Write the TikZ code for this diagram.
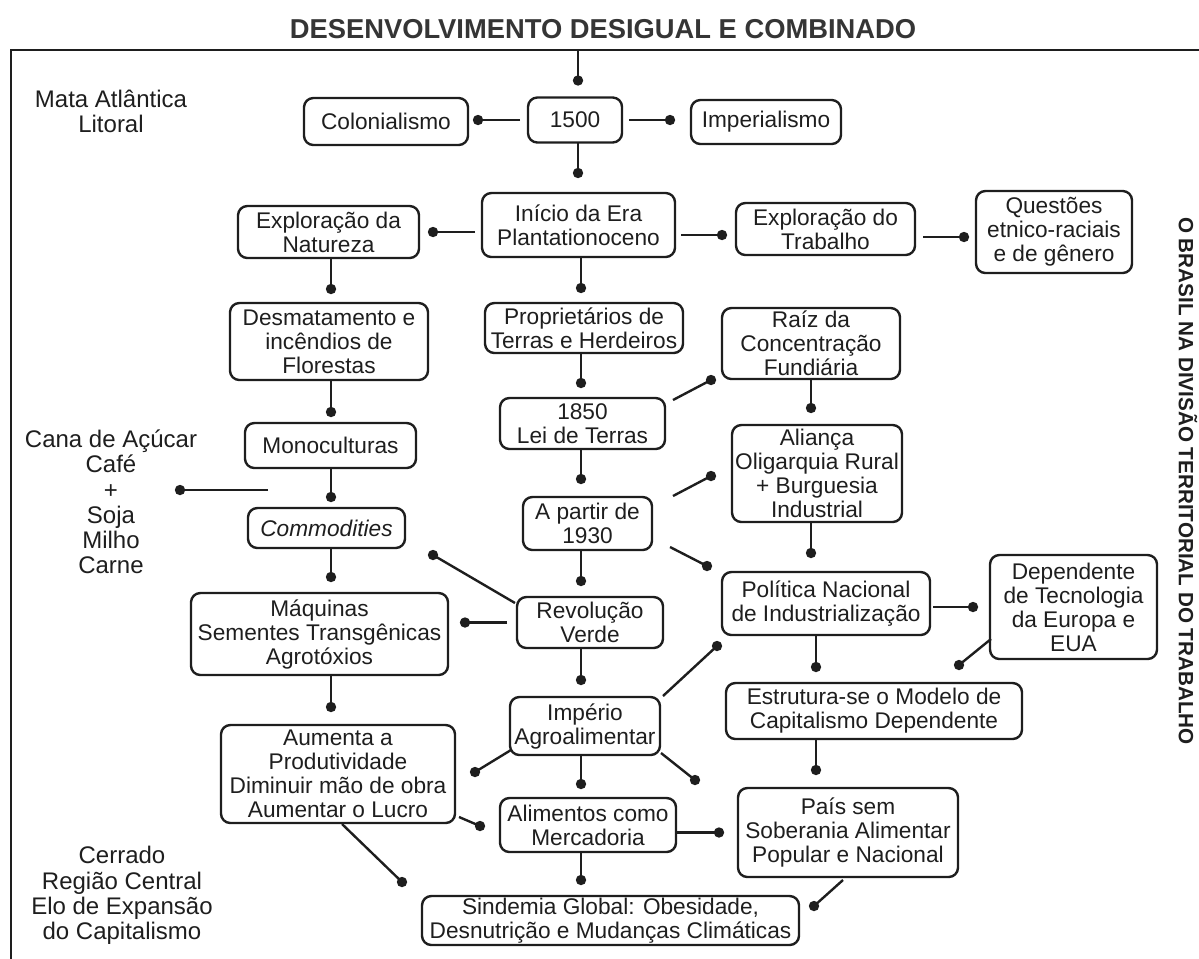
\documentclass[tikz,border=0pt]{standalone}
\usepackage{fontspec}
\setmainfont{Liberation Sans}
\usetikzlibrary{calc}
\definecolor{ink}{HTML}{1E1E1E}
\newcommand\cnx[4]{%
  \draw[conn] ($#1!#3!#2$) -- ($#2!#4!#1$);
  \fill[ink] ($#2!#4!#1$) circle[radius=5.2];}
\newcommand\sln[2]{%
  \draw[conn] #1 -- #2;
  \fill[ink] #2 circle[radius=5.2];}
\tikzset{
  box/.style={draw=ink, line width=1.8pt, rounded corners=7pt, align=center,
    inner sep=1pt, outer sep=0pt, text=ink,
    font=\fontsize{17}{18}\selectfont},
  wh/.style 2 args={minimum width=#1*0.75pt, minimum height=#2*0.75pt},
  side/.style={align=center, text=ink, font=\fontsize{18}{18.9}\selectfont},
  conn/.style={draw=ink, line width=1.8pt},
}
\begin{document}
\begin{tikzpicture}[x=0.75pt, y=-0.75pt]
\useasboundingbox (0,0) rectangle (1199,958);
% frame
\draw[ink, line width=2pt] (1210,50) -- (11,50) -- (11,970);
\node[font=\bfseries\fontsize{20.5}{22}\selectfont, text=ink!90!white] (title) at (603,29) {DESENVOLVIMENTO DESIGUAL E COMBINADO};
\node[rotate=-90, font=\bfseries\fontsize{15.5}{16}\selectfont, text=ink] (lado) at (1188,481) {O BRASIL NA DIVISÃO TERRITORIAL DO TRABALHO};
% side labels
\node[side] (mata) at (111,111) {Mata Atlântica\\Litoral};
\node[side] (cana) at (111,502) {Cana de Açúcar\\Café\\+\\Soja\\Milho\\Carne};
\node[side] (cerrado) at (122,895.5) {Cerrado\\Região Central\\Elo de Expansão\\do Capitalismo};
% boxes
\node[box, wh={164}{47}] (col) at (386,121.5) {Colonialismo};
\node[box, wh={94}{45}] (y1500) at (575,120) {1500};
\node[box, wh={150}{44}] (imp) at (766,122) {Imperialismo};
\node[box, wh={193}{64}] (inicio) at (578.5,225) {Início da Era\\Plantationoceno};
\node[box, wh={181}{52}] (nat) at (328.5,232) {Exploração da\\Natureza};
\node[box, wh={179}{52}] (trab) at (825.5,229) {Exploração do\\Trabalho};
\node[box, wh={156}{82}] (quest) at (1054,232) {Questões\\etnico-raciais\\e de gênero};
\node[box, wh={198}{50}] (prop) at (584,328) {Proprietários de\\Terras e Herdeiros};
\node[box, wh={198}{77}] (desm) at (329,341.5) {Desmatamento e\\incêndios de\\Florestas};
\node[box, wh={178}{71}] (raiz) at (811,343.5) {Raíz da\\Concentração\\Fundiária};
\node[box, wh={165}{51}] (lei) at (582.5,423.5) {1850\\Lei de Terras};
\node[box, wh={171}{45}] (mono) at (330.5,445.5) {Monoculturas};
\node[box, wh={170}{97}] (alianca) at (817,473.5) {Aliança\\Oligarquia Rural\\+ Burguesia\\Industrial};
\node[box, wh={129}{53}] (p1930) at (587.5,523.5) {A partir de\\1930};
\node[box, wh={157}{40}] (commod) at (326.5,528) {\itshape Commodities};
\node[box, wh={146}{51}] (rev) at (590,622.5) {Revolução\\Verde};
\node[box, wh={257}{82}] (maq) at (319.5,634) {Máquinas\\Sementes Transgênicas\\Agrotóxios};
\node[box, wh={208}{63}] (pol) at (826,603.5) {Política Nacional\\de Industrialização};
\node[box, wh={167}{104}] (dep) at (1073.5,607) {Dependente\\de Tecnologia\\da Europa e\\EUA};
\node[box, wh={150}{58}] (imperio) at (585,726) {Império\\Agroalimentar};
\node[box, wh={296}{56}] (estr) at (874,711) {Estrutura-se o Modelo de\\Capitalismo Dependente};
\node[box, wh={234}{98}] (aum) at (338,774) {Aumenta a\\Produtividade\\Diminuir mão de obra\\Aumentar o Lucro};
\node[box, wh={176}{54}] (alim) at (588,825) {Alimentos como\\Mercadoria};
\node[box, wh={220}{89}] (pais) at (848,832.5) {País sem\\Soberania Alimentar\\Popular e Nacional};
\node[box, wh={377}{49}] (sind) at (610.5,920.5) {Sindemia Global: Obesidade,\\Desnutrição e Mudanças Climáticas};
% column guides
\coordinate (ftop) at (578,50);
\coordinate (cc) at (581,0);
\coordinate (cl) at (331,0);
\coordinate (cr) at (811,0);
\coordinate (cr2) at (816,0);
\coordinate (canaS) at (268,490);
\coordinate (canaD) at (180,490);
\coordinate (tw) at ([shift={(0,6)}]trab.west);
\coordinate (qw) at ([shift={(0,5)}]quest.west);
% vertical connectors
\cnx{(ftop)}{(ftop |- y1500.north)}{0pt}{12.75pt}
\cnx{(y1500.south -| ftop)}{(inicio.north -| ftop)}{0pt}{15pt}
\cnx{(inicio.south -| cc)}{(prop.north -| cc)}{0pt}{11.25pt}
\cnx{(prop.south -| cc)}{(lei.north -| cc)}{0pt}{11.25pt}
\cnx{(lei.south -| cc)}{(p1930.north -| cc)}{0pt}{13.5pt}
\cnx{(p1930.south -| cc)}{(rev.north -| cc)}{0pt}{12pt}
\cnx{(rev.south -| cc)}{(imperio.north -| cc)}{0pt}{12.75pt}
\cnx{(imperio.south -| cc)}{(alim.north -| cc)}{0pt}{10.5pt}
\cnx{(alim.south -| cc)}{(sind.north -| cc)}{0pt}{12pt}
\cnx{(nat.south -| cl)}{(desm.north -| cl)}{0pt}{10.5pt}
\cnx{(desm.south -| cl)}{(mono.north -| cl)}{0pt}{8.25pt}
\cnx{(mono.south -| cl)}{(commod.north -| cl)}{0pt}{8.25pt}
\cnx{(commod.south -| cl)}{(maq.north -| cl)}{0pt}{12pt}
\cnx{(maq.south -| cl)}{(aum.north -| cl)}{0pt}{13.5pt}
\cnx{(raiz.south -| cr)}{(alianca.north -| cr)}{0pt}{12.75pt}
\cnx{(alianca.south -| cr)}{(pol.north -| cr)}{0pt}{14.25pt}
\cnx{(pol.south -| cr2)}{(estr.north -| cr2)}{0pt}{12pt}
\cnx{(estr.south -| cr2)}{(pais.north -| cr2)}{0pt}{13.5pt}
% horizontal connectors
\cnx{(y1500.west)}{(y1500.west -| col.east)}{6pt}{7.5pt}
\cnx{(y1500.east)}{(y1500.east -| imp.west)}{5.25pt}{15.75pt}
\cnx{(nat.east -| inicio.west)}{(nat.east)}{5.25pt}{10.5pt}
\cnx{(tw -| inicio.east)}{(tw)}{4.5pt}{10.5pt}
\cnx{(qw -| trab.east)}{(qw)}{6pt}{9pt}
\cnx{(rev.west)}{(rev.west -| maq.east)}{7.5pt}{12.75pt}
\cnx{(dep.west -| pol.east)}{(dep.west)}{2.25pt}{12.75pt}
\cnx{(pais.west -| alim.east)}{(pais.west)}{0.75pt}{14.25pt}
\sln{(canaS)}{(canaD)}
% slanted connectors
\sln{([shift={(8,2)}]lei.north east)}{([shift={(-11,1)}]raiz.south west)}
\sln{([shift={(21,-1)}]p1930.north east)}{([shift={(-21,2.5)}]alianca.west)}
\sln{([shift={(18,-3)}]p1930.south east)}{([shift={(-15,-6)}]pol.north west)}
\sln{([shift={(-2,6)}]rev.north west)}{([shift={(28,7)}]commod.south east)}
\sln{([shift={(3,-1)}]imperio.north east)}{([shift={(-5,11)}]pol.south west)}
\sln{([shift={(1,-5)}]imperio.south west)}{([shift={(20,-2)}]aum.east)}
\sln{([shift={(1,-2)}]imperio.south east)}{([shift={(-43,-8)}]pais.north west)}
\sln{([shift={(4,-6)}]aum.south east)}{([shift={(-20,1)}]alim.west)}
\sln{([shift={(4,1)}]aum.south)}{([shift={(-20,-14)}]sind.north west)}
\sln{([shift={(1,-20)}]dep.south west)}{([shift={(-63,-18)}]estr.north east)}
\sln{([shift={(-5,3)}]pais.south)}{([shift={(15,-14.5)}]sind.east)}
\end{tikzpicture}
\end{document}
